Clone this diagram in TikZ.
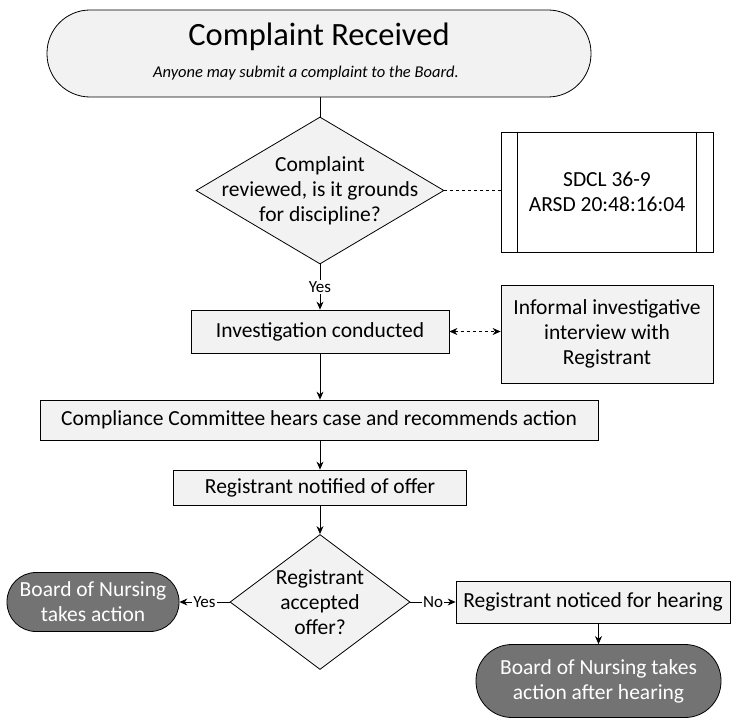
\documentclass[tikz,border=0pt]{standalone}
\usepackage{fontspec}
\setmainfont{Carlito}
\usetikzlibrary{arrows.meta,positioning,shapes.geometric,calc}
\definecolor{boxgray}{RGB}{242,242,242}
\definecolor{darkgray}{RGB}{115,115,115}
\tikzset{
  stepbox/.style={draw=black, line width=0.8pt, fill=boxgray, align=center,
    inner sep=4pt, font=\fontsize{21.5}{25}\selectfont},
  decision/.style={diamond, draw=black, line width=0.8pt, fill=boxgray, inner sep=0pt},
  qtext/.style={align=center, inner sep=0pt, font=\fontsize{21.5}{25}\selectfont},
  endterm/.style={draw=black, line width=0.8pt, fill=darkgray, text=white, align=center,
    font=\fontsize{21.5}{25}\selectfont},
  flow/.style={-{Stealth[length=8pt,width=7pt]}, line width=0.8pt},
  tag/.style={fill=white, inner sep=1pt, font=\fontsize{17}{19}\selectfont},
}

\begin{document}
\begin{tikzpicture}[x=1pt, y=-1pt]
      \useasboundingbox (0,0) rectangle (731,719);

      %% ---- start terminal ----
      \node[draw=black, line width=0.8pt, fill=boxgray, rounded corners=43pt,
            minimum width=544pt, minimum height=87pt] (start) at (319,53.5) {};
      \node[font=\fontsize{32.5}{36}\selectfont] (title) at (319,37) {Complaint Received};
      \node[font=\fontsize{16.5}{19}\selectfont\itshape] (sub) at (306,73)
           {Anyone may submit a complaint to the Board.};

      %% ---- review ----
      \node[decision, minimum width=248pt, minimum height=147pt] (review) at (320,190.5) {};
      \node[qtext] at (review.center) {Complaint\\reviewed, is it grounds\\for discipline?};
      \draw[line width=0.8pt] (start.south -| review.north) -- (review.north);
      \node[stepbox, fill=white, minimum width=212pt, minimum height=120pt] (law) at (607,192)
           {SDCL 36-9\\ARSD 20:48:16:04};
      \draw[line width=0.8pt] ([xshift=17pt]law.north west) -- ([xshift=17pt]law.south west);
      \draw[line width=0.8pt] ([xshift=-17pt]law.north east) -- ([xshift=-17pt]law.south east);
      \draw[dashed, line width=0.6pt] (review.east) -- (review.east -| law.west);

      %% ---- investigation ----
      \node[stepbox, minimum width=258pt, minimum height=43pt] (invest) at (320,331.5)
           {Investigation conducted};
      \draw[flow] (review.south) -- node[tag] {Yes} (invest.north);
      \node[stepbox, minimum width=212pt, minimum height=98pt] (interview) at (607,334)
           {Informal investigative\\interview with\\Registrant};
      \draw[{Stealth[length=8pt,width=7pt]}-{Stealth[length=8pt,width=7pt]}, dashed,
            line width=0.6pt] (invest.east) -- (invest.east -| interview.west);

      %% ---- committee / offer ----
      \node[stepbox, minimum width=558pt, minimum height=40pt] (committee) at (319,420)
           {Compliance Committee hears case and recommends action};
      \draw[flow] (invest.south) -- (invest.south |- committee.north);
      \node[stepbox, minimum width=293pt, minimum height=35pt] (notified) at (320,487.5)
           {Registrant notified of offer};
      \draw[flow] (committee.south -| notified.north) -- (notified.north);

      %% ---- accepted? ----
      \node[decision, minimum width=180pt, minimum height=135pt] (accepted) at (320,602) {};
      \node[qtext] at (accepted.center) {Registrant\\accepted\\offer?};
      \draw[flow] (notified.south) -- (accepted.north);
      \node[endterm, rounded corners=29pt, minimum width=172pt, minimum height=59pt]
           (action) at (93,602) {Board of Nursing\\takes action};
      \draw[flow] (accepted.west) -- node[tag] {Yes} (action.east);
      \node[stepbox, minimum width=274pt, minimum height=42pt] (noticed) at (593,602)
           {Registrant noticed for hearing};
      \draw[flow] (accepted.east) -- node[tag] {No} (noticed.west);
      \node[endterm, rounded corners=36pt, minimum width=245pt, minimum height=73pt]
           (hearing) at (598.5,681) {Board of Nursing takes\\action after hearing};
      \draw[flow] (noticed.south -| hearing.north) -- (hearing.north);
\end{tikzpicture}
\end{document}
